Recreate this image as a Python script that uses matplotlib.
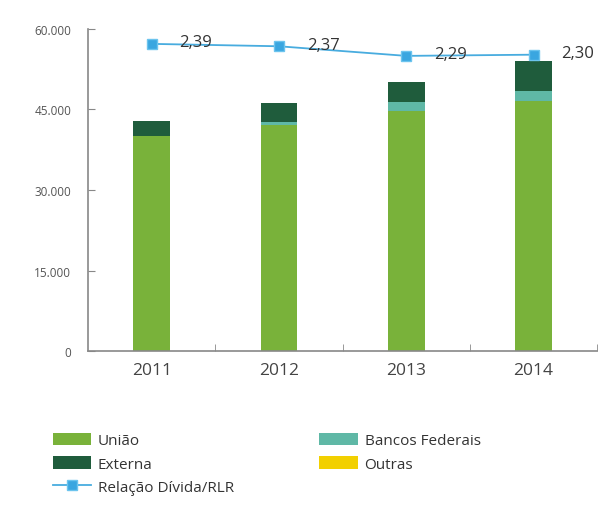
import numpy as np
import matplotlib.pyplot as plt

plt.rcParams['font.family'] = ['Open Sans', 'DejaVu Sans']

# dados (R$ milhões)
anos = ['2011', '2012', '2013', '2014']
uniao = [40000, 42100, 44700, 46600]
bancos = [0, 500, 1700, 1800]
externa = [2800, 3600, 3700, 5600]
outras = [0, 0, 0, 0]
relacao = [2.39, 2.37, 2.29, 2.30]
relacao_txt = ['2,39', '2,37', '2,29', '2,30']

c_uniao = '#79b23a'
c_bancos = '#5fb8a6'
c_externa = '#1f5c3c'
c_outras = '#f2d000'
c_linha = '#48acdf'

fig = plt.figure(figsize=(5.99, 5.06), dpi=100)
ax = fig.add_axes([0.147, 0.304, 0.85, 0.637])

x = np.arange(len(anos))
w = 0.29
b1 = ax.bar(x, uniao, w, color=c_uniao, label='União')
base = np.array(uniao)
b2 = ax.bar(x, bancos, w, bottom=base, color=c_bancos, label='Bancos Federais')
base = base + np.array(bancos)
b3 = ax.bar(x, externa, w, bottom=base, color=c_externa, label='Externa')
base = base + np.array(externa)
b4 = ax.bar(x, outras, w, bottom=base, color=c_outras, label='Outras')

ax.set_xlim(-0.5, 3.5)
ax.set_ylim(0, 60000)
ax.set_yticks([0, 15000, 30000, 45000, 60000])
ax.set_yticklabels(['0', '15.000', '30.000', '45.000', '60.000'], color='#555555', fontsize=8.5)
ax.set_xticks(x)
ax.set_xticklabels(anos, fontsize=12.5, color='#444444')
ax.set_xticks([0.5, 1.5, 2.5, 3.5], minor=True)
ax.tick_params(axis='x', which='major', length=0, pad=8)
ax.tick_params(axis='x', which='minor', direction='in', length=5, color='#888888')
ax.tick_params(axis='y', direction='in', length=5, color='#888888', pad=12)
for s in ['top', 'right']:
    ax.spines[s].set_visible(False)
for s in ['left', 'bottom']:
    ax.spines[s].set_color('#888888')
    ax.spines[s].set_linewidth(1.2)

# eixo secundário da relação dívida/RLR
ax2 = ax.twinx()
ax2.set_ylim(-0.168, 2.515)
ax2.axis('off')
ln, = ax2.plot(x, relacao, color=c_linha, lw=1.3, marker='s', ms=7,
               mfc='#3aa6e0', mec='#6cc4ee', label='Relação Dívida/RLR')
for xi, yi, t in zip(x, relacao, relacao_txt):
    ax2.annotate(t, (xi, yi), xytext=(20, 1), textcoords='offset points',
                 fontsize=12, color='#333333', va='center')

fig.legend([b1, b3, ln, b2, b4],
           ['União', 'Externa', 'Relação Dívida/RLR', 'Bancos Federais', 'Outras'],
           loc='upper left', bbox_to_anchor=(0.065, 0.17), ncol=2,
           frameon=False, fontsize=11, handlelength=2.5, handleheight=0.9,
           labelspacing=0.5, columnspacing=5.6, handletextpad=0.45,
           labelcolor='#333333')

fig.savefig('out.png', dpi=100)
